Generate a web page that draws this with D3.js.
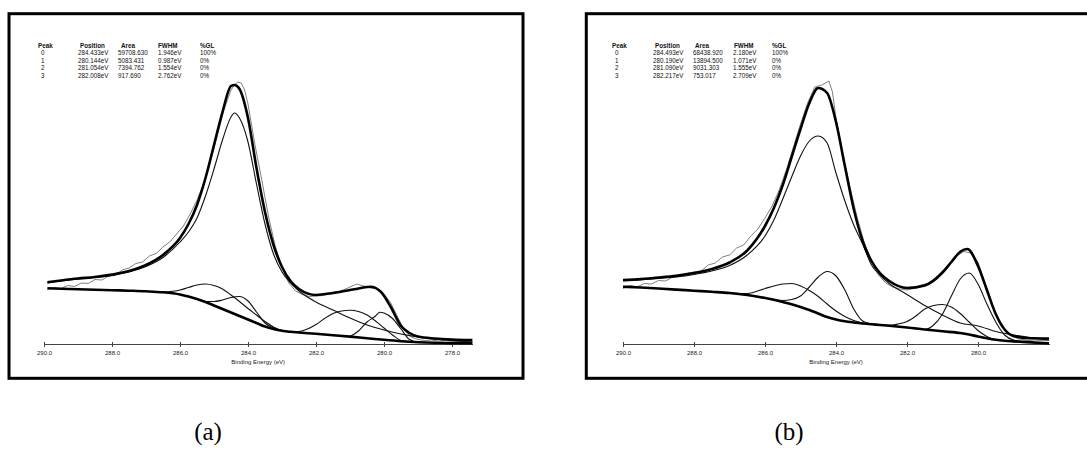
<!DOCTYPE html>
<html>
<head>
<meta charset="utf-8">
<script src="https://cdn.jsdelivr.net/npm/d3@7"></script>
<style>
body { margin: 0; background: #fff; }
svg { display: block; }
.frame { fill: none; stroke: #000; stroke-width: 3; }
.thick { fill: none; stroke: #000; stroke-width: 2.6; stroke-linejoin: round; }
.comp { fill: none; stroke: #111; stroke-width: 1.1; }
.raw { fill: none; stroke: #808080; stroke-width: 1; }
.axis path, .axis line { stroke: #444; shape-rendering: crispEdges; }
.axis text, .xtitle { font-family: "Liberation Sans", Arial, sans-serif; font-size: 6px; fill: #222; }
.tbl { font-family: "Liberation Sans", Arial, sans-serif; font-size: 6.3px; fill: #111; }
.tbl.head { font-weight: bold; }
.caption { font-family: "Liberation Serif", "Times New Roman", serif; font-size: 25px; }
</style>
</head>
<body>
<script>
// C 1s fits, binding energy in eV, intensity in arbitrary units (no y axis in the original)
var width = 1087,
    height = 457;

var tableHead = ["Peak", "Position", "Area", "FWHM", "%GL"];
var tableA = [
    ["0", "284.433eV", "59708.630", "1.946eV", "100%"],
    ["1", "280.144eV", "5083.431", "0.987eV", "0%"],
    ["2", "281.054eV", "7394.762", "1.554eV", "0%"],
    ["3", "282.008eV", "917.690", "2.762eV", "0%"]];
var tableB = [
    ["0", "284.493eV", "68438.920", "2.180eV", "100%"],
    ["1", "280.190eV", "13894.500", "1.071eV", "0%"],
    ["2", "281.090eV", "9031.303", "1.555eV", "0%"],
    ["3", "282.217eV", "753.017", "2.709eV", "0%"]];

var ticksA = [290, 288, 286, 284, 282, 280, 278];
var ticksB = [290, 288, 286, 284, 282, 280];

// ---- panel (a)
var rawA = [[289.9,54.5],[289.7,56.5],[289.5,55.5],[289.3,58.5],[289.1,57.5],[288.9,61],[288.7,60.5],[288.5,64.5],[288.3,64],[288.1,68],[287.9,68.5],[287.7,74],[287.5,76],[287.3,80.5],[287.1,82],[286.9,88],[286.7,90.5],[286.5,97],[286.3,102],[286.1,110],[285.9,118],[285.7,130],[285.5,144],[285.3,161],[285.1,183],[284.9,209],[284.7,235],[284.5,254],[284.4,259],[284.3,262],[284.2,261],[284.1,254],[284.0,240],[283.8,200],[283.6,165],[283.4,128],[283.2,98],[283.0,77],[282.8,61],[282.6,53],[282.4,49.5],[282.2,47.5],[282.0,48],[281.8,48.5],[281.6,50],[281.4,51.5],[281.2,54],[281.0,57],[280.8,60],[280.6,58],[280.4,56],[280.2,55],[280.0,50],[279.8,41],[279.6,27],[279.4,14],[279.2,7],[279.0,4.5],[278.8,3.5],[278.6,4],[278.4,3],[278.2,3.5],[278.0,3],[277.8,2.5],[277.6,3],[277.4,2.5]];
var envelopeA = [[289.9,61.7],[289.5,63.5],[289.0,65.5],[288.5,67],[288.0,69.5],[287.5,73],[287.0,79],[286.5,89],[286.0,106],[285.75,120],[285.5,139],[285.25,166],[285.0,199],[284.75,232],[284.5,258],[284.4,259],[284.25,255],[284.0,226],[283.75,176],[283.5,132],[283.25,99],[283.0,77],[282.75,63],[282.5,55],[282.0,49],[281.5,51],[281.0,54],[280.75,55.5],[280.4,57.3],[280.1,52.5],[279.8,37],[279.5,18],[279.25,11],[279.0,7.5],[278.5,5.5],[278.0,4.5],[277.4,4]];
var bgA = [[289.9,55.7],[289.5,55.3],[289.0,54.8],[288.5,54.3],[288.0,53.8],[287.5,53.3],[287.0,52.7],[286.5,51.7],[286.0,49.5],[285.75,47.5],[285.5,45],[285.25,42],[285.0,38.5],[284.75,35],[284.5,31.5],[284.25,28],[284.0,24.5],[283.75,21],[283.5,17.5],[283.25,15],[283.0,13.2],[282.75,12.2],[282.5,11.5],[282.0,10.2],[281.5,8.8],[281.0,7.4],[280.5,5.8],[280.0,4.2],[279.5,2.8],[279.0,1.8],[278.5,1.2],[278.0,0.9],[277.4,0.7]];
var peak0A = [[289.9,61],[289.5,63],[289.0,65],[288.5,66.5],[288.0,68.5],[287.5,72],[287.0,77.5],[286.5,86.5],[286.0,102],[285.75,112],[285.5,126],[285.25,148],[285.0,175],[284.75,204],[284.5,227],[284.4,231],[284.25,226],[284.0,202],[283.75,160],[283.5,120],[283.25,90],[283.0,72],[282.75,61],[282.5,53],[282.0,42],[281.5,34],[281.0,26],[280.5,19],[280.0,14],[279.5,10],[279.0,7],[278.5,5],[278.0,3.5],[277.4,2]];
var peak1A = [[281.0,7.4],[280.75,13],[280.5,22],[280.25,28],[280.12,31.7],[280.0,31],[279.75,25.5],[279.5,15],[279.25,4.5],[279.0,1.8],[278.75,1.5]];
var peak2A = [[283.0,13.2],[282.75,12.3],[282.5,12.5],[282.25,15],[282.0,19.5],[281.75,25.5],[281.5,30.5],[281.25,33],[281.0,33.7],[280.75,32.5],[280.5,29],[280.25,23],[280.0,16],[279.75,9],[279.5,3.5],[279.25,2.2]];
var shoulderHiA = [[286.5,51.7],[286.0,54],[285.75,56.5],[285.5,59],[285.25,60],[285.0,58.5],[284.75,55],[284.5,49],[284.25,42.5],[284.0,35.5],[283.75,29],[283.5,22.5],[283.25,17],[283.0,13.5],[282.75,12.2]];
var shoulderLoA = [[285.5,45],[285.25,42.5],[285.0,42.5],[284.75,44],[284.5,46.5],[284.25,47.5],[284.0,43],[283.75,32],[283.5,21],[283.25,16],[283.0,13.3],[282.75,12.2]];

// ---- panel (b)
var rawB = [[290.0,55.5],[289.8,58.5],[289.6,57],[289.4,60.5],[289.2,60],[289.0,63.5],[288.8,63],[288.6,67],[288.4,67.5],[288.2,70.5],[288.0,72],[287.8,73],[287.6,79],[287.4,81],[287.2,87],[287.0,89],[286.8,96],[286.6,99],[286.4,108],[286.2,115],[286.0,126],[285.8,138],[285.6,154],[285.4,174],[285.2,197],[285.0,220],[284.8,241],[284.6,257],[284.4,259],[284.3,261],[284.2,263],[284.1,252],[284.0,226],[283.8,188],[283.6,156],[283.4,126],[283.2,101],[283.0,82],[282.8,69],[282.6,61],[282.4,57],[282.2,55],[282.0,54],[281.8,55.5],[281.6,59],[281.4,61],[281.2,66],[281.0,73],[280.8,80.5],[280.6,88],[280.4,92.5],[280.2,91],[280.0,82],[279.8,61],[279.6,39],[279.4,22],[279.2,12],[279.0,7],[278.8,4.5],[278.6,3.5],[278.4,4],[278.2,3.5],[278.0,3.5]];
var envelopeB = [[290.0,64],[289.5,65],[289.0,66.5],[288.5,68.3],[288.0,71],[287.5,75],[287.0,81.5],[286.5,93.5],[286.0,118],[285.75,136],[285.5,159],[285.25,187],[285.0,215],[284.75,241],[284.5,256],[284.25,251],[284.0,222],[283.75,178],[283.5,135],[283.25,103],[283.0,83],[282.75,70.5],[282.5,63],[282.0,56],[281.5,58.5],[281.0,71.5],[280.75,82],[280.5,92.3],[280.3,95],[280.0,78],[279.75,54],[279.5,30],[279.25,14.5],[279.0,8],[278.5,5.7],[278.0,5.5]];
var bgB = [[290.0,57.3],[289.5,56.5],[289.0,55.5],[288.5,54.4],[288.0,53.3],[287.5,52.2],[287.0,51],[286.5,49],[286.0,46],[285.75,44.2],[285.5,42],[285.25,39.7],[285.0,37],[284.75,34],[284.5,30.5],[284.25,27],[284.0,24.5],[283.75,22.7],[283.5,21.5],[283.25,20.5],[283.0,19.7],[282.75,19],[282.5,18.2],[282.0,16.5],[281.5,14.5],[281.0,12.7],[280.5,11],[280.25,9.5],[280.0,7.5],[279.75,5.7],[279.5,4.2],[279.25,3.2],[279.0,2.6],[278.5,1.6],[278.0,0.7]];
var peak0B = [[290.0,63],[289.5,64],[289.0,65.5],[288.5,67],[288.0,69.5],[287.5,73],[287.0,78.5],[286.5,89],[286.0,108],[285.75,124],[285.5,145],[285.25,167],[285.0,188],[284.75,203],[284.5,208],[284.25,201],[284.0,171],[283.75,143],[283.5,119],[283.25,100],[283.0,79],[282.75,68.5],[282.5,60.5],[282.0,49.5],[281.5,38.5],[281.0,29],[280.5,21],[280.0,18],[279.5,12.5],[279.0,9],[278.5,6.3],[278.0,4]];
var peak1B = [[282.0,16.5],[281.5,14.5],[281.25,19],[281.0,30],[280.75,48],[280.5,65],[280.25,71],[280.0,60],[279.75,40],[279.5,22],[279.25,9],[279.0,4],[278.5,1.6]];
var peak2B = [[283.0,19.7],[282.75,19],[282.5,18.7],[282.25,20],[282.0,22.5],[281.75,28],[281.5,35],[281.25,38.5],[281.0,39.5],[280.75,37],[280.5,30.5],[280.25,22],[280.0,13.5],[279.75,7.5],[279.5,4.2],[279.25,3.2]];
var shoulderHiB = [[287.0,51],[286.5,50.5],[286.0,55.5],[285.75,58],[285.5,60],[285.25,60.5],[285.0,58],[284.75,53.5],[284.5,47.5],[284.25,40],[284.0,33],[283.75,27.5],[283.5,23.5],[283.25,21],[283.0,19.7]];
var shoulderLoB = [[286.0,46],[285.75,44.5],[285.5,43.5],[285.25,44.5],[285.0,48],[284.75,57],[284.5,67],[284.25,72.5],[284.0,68],[283.75,54],[283.5,35],[283.25,23],[283.0,20],[282.75,19]];

var svg = d3.select("body").append("svg")
    .attr("width", width)
    .attr("height", height);

var y = d3.scaleLinear()
    .domain([0, 280])
    .range([344, 64]);

drawPanel({
    frame: [9, 13.7, 514, 364.6],
    x0: 44, x1: 472.4, eEnd: 277.4,
    ticks: ticksA,
    cols: [38, 78, 118, 158, 200],
    headCols: [38, 80, 121, 158, 200],
    rows: tableA,
    raw: rawA, envelope: envelopeA, bg: bgA,
    comps: [peak0A, peak1A, peak2A, shoulderHiA, shoulderLoA],
    caption: "(a)", capX: 208
});

drawPanel({
    frame: [586.3, 13.7, 514, 364.6],
    x0: 623, x1: 1049, eEnd: 278.0,
    ticks: ticksB,
    cols: [612, 653, 693, 733, 772],
    headCols: [612, 655, 695, 734, 772],
    rows: tableB,
    raw: rawB, envelope: envelopeB, bg: bgB,
    comps: [peak0B, peak1B, peak2B, shoulderHiB, shoulderLoB],
    caption: "(b)", capX: 789
});

function drawPanel(p) {
    var g = svg.append("g");

    g.append("rect")
        .attr("class", "frame")
        .attr("x", p.frame[0])
        .attr("y", p.frame[1])
        .attr("width", p.frame[2])
        .attr("height", p.frame[3]);

    var x = d3.scaleLinear()
        .domain([290, p.eEnd])
        .range([p.x0, p.x1]);

    var smooth = d3.line()
        .x(function(d) { return x(d[0]); })
        .y(function(d) { return y(d[1]); })
        .curve(d3.curveMonotoneX);

    var jagged = d3.line()
        .x(function(d) { return x(d[0]); })
        .y(function(d) { return y(d[1]); });

    // peak table
    tableHead.forEach(function(h, i) {
        g.append("text")
            .attr("class", "tbl head")
            .attr("x", p.headCols[i])
            .attr("y", 47.5)
            .text(h);
    });
    p.rows.forEach(function(r, j) {
        r.forEach(function(cell, i) {
            g.append("text")
                .attr("class", "tbl")
                .attr("x", i == 0 ? p.cols[0] + 3 : p.cols[i])
                .attr("y", 55 + j * 7.7)
                .text(cell);
        });
    });

    // axis
    var axis = d3.axisBottom(x)
        .tickValues(p.ticks)
        .tickFormat(d3.format(".1f"))
        .tickSizeInner(3)
        .tickSizeOuter(0)
        .tickPadding(4);
    var ga = g.append("g")
        .attr("class", "axis")
        .attr("transform", "translate(0,344)")
        .call(axis);
    ga.selectAll(".tick line").attr("y1", -2);

    g.append("text")
        .attr("class", "xtitle")
        .attr("x", (p.x0 + p.x1) / 2)
        .attr("y", 364)
        .attr("text-anchor", "middle")
        .text("Binding Energy (eV)");

    // curves
    g.append("path")
        .datum(p.raw)
        .attr("class", "raw")
        .attr("d", jagged);

    g.selectAll(".comp")
        .data(p.comps)
        .enter().append("path")
        .attr("class", "comp")
        .attr("d", smooth);

    g.append("path")
        .datum(p.bg)
        .attr("class", "thick")
        .attr("d", smooth);

    g.append("path")
        .datum(p.envelope)
        .attr("class", "thick")
        .attr("d", smooth);

    svg.append("text")
        .attr("class", "caption")
        .attr("x", p.capX)
        .attr("y", 440)
        .attr("text-anchor", "middle")
        .text(p.caption);
}
</script>
</body>
</html>
